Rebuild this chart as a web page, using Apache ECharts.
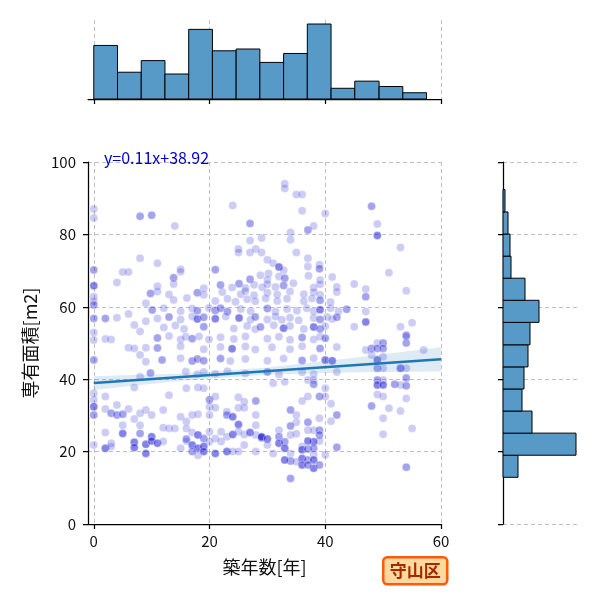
<!DOCTYPE html>
<html>
<head>
<meta charset="utf-8">
<script src="https://cdn.jsdelivr.net/npm/echarts@6/dist/echarts.min.js"></script>
<style>
  html, body { margin: 0; padding: 0; background: #fff; }
  #chart { width: 600px; height: 600px; }
</style>
</head>
<body>
<div id="chart"></div>
<script>
// 築年数 vs 専有面積 (守山区), repeated where they overlap
const pointsUpper = [
  [0,87],[0,84.5],[8,85],[8,85],[10,85.3],[10,85.3],[14,82.3],[24,88],[27,83],[27,83],
  [27,78.3],[25,76],[25,75],[27,75],[28,76],[29,75],[29,79],
  [8,73.4],[11,72],[15,70.4],[21,70.2],[0,70.2],[0,70.2],[5,69.6],[6,69.6],[4,66.7],[0,65.8],[0,65.8],[0,65.8],
  [0,62.8],[0,61.5],[0,60.5],[0,60.5],[2,56.8],[2,56.8],[0,56.8],[0,56.8],[0,52.9],[8,53.2],
  [6,58],[7,55],[4,57],[3,51],[9,61],[9,56],
  [33,94],[33,92.7],[35,91],[36,91],[36,86.5],[40,85.8],[48,87.8],[48,87.8],[49,82.9],[49,79.7],[49,79.7],[49,79.7],[53,76.4],
  [34,80.5],[34,78.5],[37,81.2],[37,81.2],[38,82.3],[35,75],
  [30,73],[31,72],[32,71],[32,71],[32,71],[37,73.4],[37,71.1],[39,71.6],[39,70.5],[39,70.5],
  [45,66.3],[51,69.4],[47,64.9],[47,62.8],[47,62.8],[54,64.4],
  [45,54.5],[47,58.7],[47,55.8],[47,55.8],[47,55.8],[53,54.5],[54,52.1],[55,55.6],
  [0,50.8],[2,51.1],[0,45.3],[0,45.3],[6,48.7],[7,48.5],[9,48.7],[8,46.7],[9,44.8],[8,40.7]
]
// the dense block between 10 and 44 years, 40 to 70 m2
const pointsMiddle = [
  [15,69.7],[21,70.3],[30.2,69.2],[32.8,70.1],
  [13.8,68],[13.8,68],[27,67.6],[27,67.6],[28.8,68.7],[30,67.5],[32,68.4],[33,67.9],[33,67.9],[37.1,68.6],[39.1,67.4],[41.2,68.2],
  [11,65.7],[13.8,66.3],[19,65.1],[21.9,66],[21.9,66],[23.9,65.3],[25.1,66.4],[25.1,66.4],[26.2,65.2],[27.7,66.1],
  [29.1,65.4],[30,66.2],[31.4,65.5],[32.8,65.9],[32.8,65.9],[34.5,66.5],[38,65.3],[39.1,66.2],[42,65.5],
  [9.8,63.7],[9.8,63.7],[11,64.2],[13,63.4],[17.9,63.9],[17.9,63.9],[19,63.3],[22.2,64.1],[25.4,63.5],[26.2,64.3],
  [27.7,63.2],[30,63.9],[31.7,63.4],[33.9,64.2],[36.3,63.5],[38,64],[39.1,63.3],[42,64.1],
  [13.8,61.9],[16.1,62.4],[21,61.6],[23.1,62.2],[24.5,61.4],[26.5,62.1],[27.9,61.5],[29.7,62.3],[31.7,61.6],[33.4,62.2],
  [36.3,61.5],[37.7,62.3],[39.1,61.8],[39.1,61.8],[40.9,61.3],
  [10.1,59.1],[10.1,59.1],[12.1,59.6],[15,58.8],[17,59.5],[17.9,58.9],[17.9,58.9],[19.9,59.7],[21,59],[21,59],
  [21.9,59.6],[21.9,59.6],[23.1,58.7],[23.1,58.7],[25.4,59.4],[27.1,58.8],[30,59.5],[30,59.5],[31.4,58.7],[33.4,59.4],
  [35.1,58.9],[36.8,59.6],[38,58.8],[39.1,59.2],[39.1,59.2],[39.1,59.2],[40.9,59.6],[42.3,58.8],[43.7,59.3],[43.7,59.3],
  [11,56.8],[13,57.2],[13,57.2],[15,56.5],[17,57.3],[17.9,56.6],[17.9,56.6],[17.9,56.6],[19,57.1],[19,57.1],[21,56.7],
  [21,56.7],[21,56.7],[22.8,57.3],[25.1,56.9],[25.1,56.9],[25.1,56.9],[27.1,56.4],[27.9,57.2],[27.9,57.2],[30,56.5],
  [31.4,57.3],[32.5,56.4],[33.9,57],[35.4,56.3],[38,56.9],[39.1,56.5],[39.1,56.5],[40.3,57.2],[41.2,56.6],[42,57.1],[42,57.1],
  [12.1,54.3],[14.1,54.8],[15.6,53.9],[19,54.5],[19,54.5],[24.2,54],[26.5,54.7],[27.9,53.8],[28.8,54.4],[28.8,54.4],
  [31.1,54.9],[32.8,54.1],[32.8,54.1],[32.8,54.1],[33.9,54.7],[36.3,53.9],[38,54.4],[38,54.4],[38,54.4],[39.1,53.9],
  [39.1,53.9],[40,54.6],
  [11,51.4],[11,51.4],[13,51.9],[15,51],[15.9,51.7],[17,51.2],[17,51.2],[18.2,51.8],[19.9,51],[21.9,51.6],[24.2,51.1],
  [26.2,51.8],[30,51.2],[32,51.7],[33.9,50.9],[36,51.5],[36,51.5],[38,51],[39.1,51.7],[40,51.3],[40,51.3],
  [11,48.6],[11,48.6],[15,49.1],[19,48.3],[21.9,48.9],[23.9,48.4],[23.9,48.4],[23.9,48.4],[26.2,49],[27.9,48.2],
  [30.8,48.8],[33.9,48.3],[36,49.1],[39.1,48.5],[39.1,48.5],[42,48.9],
  [11.8,45.3],[11.8,45.3],[15,45.8],[17,45],[17,45],[17.9,45.6],[17.9,45.6],[19,45.1],[19,45.1],[21.9,45.7],
  [21.9,45.7],[23.6,45],[26.2,45.6],[30,45.1],[32.8,45.7],[36,45.2],[36,45.2],[38,45.8],[40,45.3],[40,45.3],[40,45.3],
  [41.2,45.1],[41.2,45.1],[41.2,45.1],
  [9.8,41.7],[9.8,41.7],[15.9,42.1],[17.9,41.4],[19,42],[21,41.5],[23.1,42.2],[26.2,41.6],[30,42],[30,42],
  [32,41.3],[36,41.9],[38,41.4],[42,42]
]
const pointsLower = [
  [7,37.7],[13,35.6],[16,37.5],[18,37.7],[19,37.5],[0,36.1],[0,34.3],[2,35.2],[20,34.3],[20,34.3],[21,35.2],[25,35],
  [26,33.8],[28,34],[28,34],[0,32.4],[0,32.4],[0,32.4],[0,30.1],[0,30.1],[2,31.8],[3,30.6],[3,30.6],[4,32.9],[4,30.1],
  [4,30.1],[5,30.3],[5,30.3],[6,31.8],[8,30.6],[9,31.5],[10,30.1],[12,31.5],[15,29.6],[16,28.3],[17,30.1],[18,30.3],
  [20,32.4],[20,30.1],[21,32.1],[23,31],[23,30.1],[23,30.1],[24,29.6],[24,29.6],[24,29.6],[25,32.1],[26,32.1],
  [25,27.5],[25,27.5],[25,27.5],[28,30.1],[28,27.3],
  [2,25.3],[5,27.3],[5,25],[5,25],[5,25],[7,29],[8,27.3],[8,25],[8,25],[10,24.1],[10,24.1],[10,24.1],[12,26.6],[13,26.4],
  [14,26.4],[16,26.4],[16,23.5],[16,23.5],[17,25.3],[18,24.6],[18,24.6],[18,24.6],[19,23.6],[19,23.6],[20,25.5],[21,23.6],
  [22,25.5],[23,24.1],[24,24.7],[24,24.7],[24,24.7],[25,25.5],[26,24.7],[27,25.3],[27,25.3],[27,25.3],[28,24.6],
  [29,23.8],[29,23.8],[29,23.8],
  [0,21.8],[2,20.9],[2,20.9],[2,20.9],[3,22.3],[3,21.4],[7,22.6],[7,22.6],[7,22.6],[7,21.1],[7,21.1],[7,21.1],[9,22],[9,22],
  [9,22],[9,19.5],[9,19.5],[9,19.5],[10,22.9],[10,22.9],[10,22.9],[11,22.3],[11,22.3],[11,22.3],[12,22.8],[15,20.9],[16,22.9],
  [17,21.8],[17,21.8],[17,21.8],[18,20.9],[18,20.9],[18,20.9],[19,21.4],[19,21.4],[19,21.4],[17,20],[17,20],[18,19],[19,20],
  [19,20],[19,20],[21,19.5],[21,19.5],[21,19.5],[23,20],[23,20],[23,20],[24,20],[25,20],[28,20],[20,22.8],[22,22.8],[26,21.8],
  [33,39.3],[31,38.9],[37,39.8],[38,39.8],[38,38.6],[38,38.6],[39,35.2],[39,35.2],[40,35.2],[40,37.5],
  [41,33.2],[42,30.1],[42,30.1],[41,28.4],[39,29.2],[36,34],[37,35.2],[34,31.5],[34,31.5],[35,30.1],[35,28.1],[34,27.1],
  [34,27.1],[35,24.9],[34,24.6],[32,25.9],[32,24.1],[32,24.1],[32,22.3],[32,22.3],[32,22.3],[33,22.7],[33,22.7],[33,20.9],
  [33,20.9],[33,20.9],[31,19.5],[29,24.1],[29,24.1],[29,24.1],[30,23.5],[30,23.5],[30,23.5],[37,28.1],[37,28.1],[37,25.9],
  [38,25.9],[39,25.9],[39,25.9],[39,24.6],[39,24.6],[39,22.9],[38,22.7],[38,22.7],[38,22.7],[37,22.9],[37,22.9],[37,22.9],
  [36,21.4],[36,20.5],[36,20.5],[36,20.5],[37,20.7],[37,20.7],[38,20.9],[38,20.9],[38,19.2],[36,18.1],[36,18.1],[36,18.1],
  [37,17.7],[37,17.7],[38,17.7],[38,17.7],[38,17.7],[38,15.4],[38,15.4],[38,15.4],[36,16.3],[36,16.3],[36,16.3],[37,16.3],
  [37,16.3],[39,16.3],[39,16.3],[40,19.1],[34,19.5],[34,17.4],[34,17.4],[35,17.2],[33,17.7],[33,17.7],[33,17.7],[30,21.8],
  [34,12.6],[34,12.6],[42,21.2],[42,21.2]
]
const pointsOld = [
  [48,48.5],[48,48.5],[49,50],[49,48.5],[49,48.5],[50,50],[50,50],[50,48.5],[50,48.5],[47,48.1],[48,46.7],[49,45.3],[49,45.3],
  [49,45.3],[49,43],[49,43],[50,43],[50,46.2],[53,43],[53,43],[53,43],[54,43],[54,50],[54,50],[57,48.1],[49,39.8],[49,39.8],
  [49,38.4],[49,38.4],[49,38.4],[50,39.8],[50,38.4],[50,38.4],[50,38.4],[52,38.6],[52,38.6],[53,38.4],[54,40.3],[54,40.3],
  [54,38.2],[54,38.2],[49,35.8],[50,35.2],[48,32.6],[48,32.6],[51,32],[53,31.2],[54,34.7],[50,29.2],[55,26.4],[50,24.8],
  [54,15.7],[54,15.7],[54,52.2],[54,51.8]
]

// regression line + confidence band
const regX = [0, 60]
const regY = [38.92, 45.52]
const ciX = [0, 15, 30, 45, 60]
const ciLow = [37.0, 39.6, 41.2, 41.9, 42.1]
const ciHigh = [40.8, 41.6, 43.2, 45.9, 48.8]

// marginal histograms
const ageEdges = [0, 4.1, 8.2, 12.3, 16.4, 20.5, 24.6, 28.7, 32.8, 36.9, 41.0, 45.1, 49.3, 53.4, 57.5]
const ageCounts = [60, 30, 43, 28, 78, 54, 56, 41, 51, 84, 12, 20, 14, 7]
const areaEdges = [12.9, 19.0, 25.1, 31.2, 37.3, 43.4, 49.5, 55.7, 61.8, 67.9, 74.0, 80.1, 86.2, 92.4]
const areaCounts = [30, 146, 58, 38, 42, 50, 54, 72, 44, 16, 14, 10, 4]

const eqText = 'y=0.11x+38.92'
const wardName = '守山区'

const FONT = 'Noto Sans CJK JP'
const BLACK = '#000'
const dashed = { show: true, lineStyle: { color: '#b0b0b0', type: [4, 3], width: 0.8 } }
const spine = { show: true, onZero: false, lineStyle: { color: BLACK, width: 1.25 } }
const tick = { show: true, inside: false, length: 5, lineStyle: { color: BLACK, width: 1.25 } }
const xTicks = [0, 20, 40, 60]

const chart = echarts.init(document.getElementById('chart'))

let allPoints = pointsUpper.concat(pointsMiddle, pointsLower, pointsOld)
let ageBins = ageCounts.map((c, i) => [ageEdges[i], ageEdges[i + 1], c])
let areaBins = areaCounts.map((c, i) => [areaEdges[i], areaEdges[i + 1], c])

chart.setOption({
  animation: false,
  textStyle: { fontFamily: FONT },
  grid: [
    { left: 88, top: 162, width: 353, height: 362 },
    { left: 88, top: 20, width: 353, height: 79 },
    { left: 503, top: 162, width: 75, height: 362 }
  ],
  xAxis: [
    {
      gridIndex: 0, type: 'value', min: -1, max: 60,
      axisLine: spine,
      axisTick: Object.assign({ customValues: xTicks }, tick),
      axisLabel: { customValues: xTicks, fontSize: 15, color: '#111', margin: 10, fontFamily: FONT },
      splitLine: dashed,
      name: '築年数[年]', nameLocation: 'middle', nameGap: 34,
      nameTextStyle: { fontSize: 18, color: '#111', fontFamily: FONT }
    },
    {
      gridIndex: 1, type: 'value', min: -1, max: 60,
      axisLine: spine,
      axisTick: Object.assign({ customValues: xTicks }, tick),
      axisLabel: { show: false, customValues: xTicks },
      splitLine: dashed
    },
    {
      gridIndex: 2, type: 'value', min: 0, max: 150,
      axisLine: { show: false }, axisTick: { show: false }, axisLabel: { show: false },
      splitLine: { show: false }
    }
  ],
  yAxis: [
    {
      gridIndex: 0, type: 'value', min: 0, max: 100, interval: 20,
      axisLine: spine, axisTick: tick,
      axisLabel: { fontSize: 15, color: '#111', margin: 12, fontFamily: FONT },
      splitLine: dashed,
      name: '専有面積[m2]', nameLocation: 'middle', nameGap: 49,
      nameTextStyle: { fontSize: 18, color: '#111', fontFamily: FONT }
    },
    {
      gridIndex: 1, type: 'value', min: 0, max: 88.5,
      axisLine: { show: false }, axisTick: { show: false }, axisLabel: { show: false },
      splitLine: { show: false }
    },
    {
      gridIndex: 2, type: 'value', min: 0, max: 100, interval: 20,
      axisLine: spine, axisTick: tick,
      axisLabel: { show: false },
      splitLine: dashed
    }
  ],
  series: [
    {
      type: 'scatter', xAxisIndex: 0, yAxisIndex: 0,
      data: allPoints, symbolSize: 8,
      itemStyle: { color: '#0000cd', opacity: 0.2, borderColor: '#fff', borderWidth: 1 },
      z: 2
    },
    {
      type: 'custom', xAxisIndex: 0, yAxisIndex: 0,
      data: [0], z: 3, silent: true,
      renderItem: function (params, api) {
        let pts = []
        ciX.forEach((x, i) => pts.push(api.coord([x, ciHigh[i]])))
        for (let i = ciX.length - 1; i >= 0; i--) pts.push(api.coord([ciX[i], ciLow[i]]))
        return { type: 'polygon', shape: { points: pts }, style: { fill: 'rgba(31,119,180,0.15)' } }
      }
    },
    {
      type: 'line', xAxisIndex: 0, yAxisIndex: 0,
      data: regX.map((x, i) => [x, regY[i]]),
      symbol: 'none', lineStyle: { color: '#1f77b4', width: 2.5 }, z: 4
    },
    {
      type: 'custom', xAxisIndex: 1, yAxisIndex: 1,
      data: ageBins,
      renderItem: function (params, api) {
        let p0 = api.coord([api.value(0), api.value(2)])
        let p1 = api.coord([api.value(1), 0])
        return {
          type: 'rect',
          shape: { x: p0[0], y: p0[1], width: p1[0] - p0[0], height: p1[1] - p0[1] },
          style: { fill: '#5799c7', stroke: BLACK, lineWidth: 1 }
        }
      }
    },
    {
      type: 'custom', xAxisIndex: 2, yAxisIndex: 2,
      data: areaBins,
      renderItem: function (params, api) {
        let p0 = api.coord([0, api.value(1)])
        let p1 = api.coord([api.value(2), api.value(0)])
        return {
          type: 'rect',
          shape: { x: p0[0], y: p0[1], width: p1[0] - p0[0], height: p1[1] - p0[1] },
          style: { fill: '#5799c7', stroke: BLACK, lineWidth: 1 }
        }
      }
    }
  ],
  graphic: [
    {
      type: 'text', left: 104, top: 150, z: 10,
      style: { text: eqText, fill: '#0000cd', fontSize: 16, fontFamily: FONT }
    },
    {
      type: 'group', left: 382, top: 556, z: 10,
      children: [
        {
          type: 'rect', shape: { x: 0, y: 0, width: 64, height: 27, r: 4 },
          style: { fill: '#ffd9a0', stroke: '#ff5a0a', lineWidth: 2.5 }
        },
        {
          type: 'text', x: 32, y: 13.5,
          style: { text: wardName, fill: '#a52a00', fontSize: 17, fontWeight: 'bold', fontFamily: FONT,
                   align: 'center', verticalAlign: 'middle' }
        }
      ]
    }
  ]
})
</script>
</body>
</html>
